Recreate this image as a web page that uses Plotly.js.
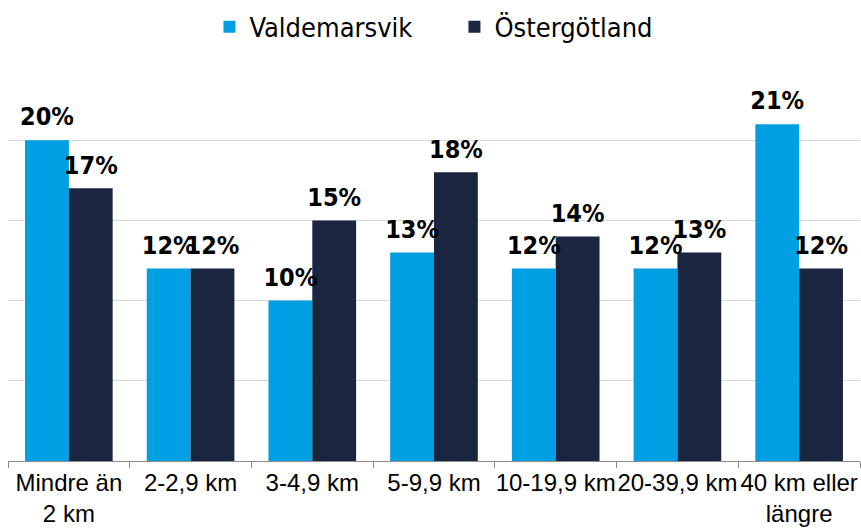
<!DOCTYPE html>
<html>
<head>
<meta charset="utf-8">
<script src="https://cdn.plot.ly/plotly-3.0.1.min.js"></script>
<style>html,body{margin:0;padding:0;background:#fff;}#chart{width:861px;height:529px;}</style>
</head>
<body>
<div id="chart"></div>
<script>
const categories = ["Mindre än<br>2 km", "2-2,9 km", "3-4,9 km", "5-9,9 km", "10-19,9 km", "20-39,9 km", "40 km eller<br>längre"];
const valdemarsvik = [20, 12, 10, 13, 12, 12, 21];
const ostergotland = [17, 12, 15, 18, 14, 13, 12];
const seriesNames = ["Valdemarsvik", "Östergötland"];
const seriesColors = ["#009FE3", "#1A2540"];

const condensed = "'Liberation Sans Narrow', 'DejaVu Sans Condensed', sans-serif";
const labelFont = {family: condensed, size: 25, color: "#000000", weight: "bold"};

const seriesValues = [valdemarsvik, ostergotland];
const traces = [];
seriesValues.forEach((vals, i) => {
  traces.push({type: "bar", name: seriesNames[i], x: categories, y: vals,
    offsetgroup: "g" + i, marker: {color: seriesColors[i]}, hoverinfo: "none"});
});
seriesValues.forEach((vals, i) => {
  traces.push({type: "scatter", mode: "markers+text", x: categories, y: vals,
    offsetgroup: "g" + i, showlegend: false, cliponaxis: false, hoverinfo: "none",
    marker: {size: 12, opacity: 0, color: seriesColors[i]},
    text: vals.map(v => v + "%"), textposition: "top center", textfont: labelFont});
});

const layout = {
  width: 861, height: 529,
  margin: {l: 8, r: 1, t: 60, b: 68},
  paper_bgcolor: "#ffffff", plot_bgcolor: "#ffffff",
  barmode: "group", bargap: 0.28, bargroupgap: 0,
  scattermode: "group", scattergap: 0.28,
  showlegend: true,
  legend: {orientation: "h", x: 0.524, xanchor: "center", y: 0.995, yanchor: "top", yref: "container",
           font: {family: condensed, size: 27, color: "#000"},
           entrywidth: 200, entrywidthmode: "pixels",
           traceorder: "normal"},
  xaxis: {type: "category", showline: true, linecolor: "#8c8c8c", linewidth: 1,
          ticks: "outside", ticklen: 6, tickcolor: "#8c8c8c", tickson: "boundaries", tickangle: 0,
          tickfont: {family: "'Liberation Sans', Arial, sans-serif", size: 24, color: "#000"},
          showgrid: false},
  yaxis: {range: [0, 25], dtick: 5, showticklabels: false, showgrid: true, gridcolor: "#d9d9d9", gridwidth: 1,
          zeroline: false, showline: false, ticks: ""},
  font: {family: "'Liberation Sans', Arial, sans-serif"}
};

Plotly.newPlot("chart", traces, layout, {displayModeBar: false, staticPlot: true});
</script>
</body>
</html>
